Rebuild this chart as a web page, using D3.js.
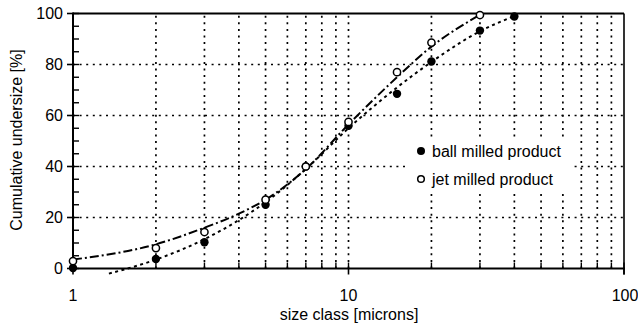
<!DOCTYPE html>
<html>
<head>
<meta charset="utf-8">
<script src="https://cdn.jsdelivr.net/npm/d3@7"></script>
<style>
  html, body { margin: 0; padding: 0; background: #fff; }
  svg { display: block; }
  text { font-family: "Liberation Sans", Arial, Helvetica, sans-serif; fill: #000; }
</style>
</head>
<body>
<svg id="chart" width="638" height="325"></svg>
<script>
// ---- data ----
const sizeClasses = [1, 2, 3, 5, 7, 10, 15, 20, 30, 40];
const ballMilled  = [0.2, 3.7, 10.3, 25, 40, 56, 68.5, 81.2, 93.3, 98.8];
const jetSizes    = [1, 2, 3, 5, 7, 10, 15, 20, 30];
const jetMilled   = [2.9, 8, 14.3, 27, 40, 57.5, 77, 88.6, 99.4];

// fitted curves
const ballFitX = [1.35, 2, 3, 4, 5, 7, 10, 15, 20, 30, 40];
const ballFitY = [-2, 3.5, 11.5, 19, 26, 39, 55, 71, 81, 93, 99];
const jetFitX  = [1, 2, 3, 4, 5, 7, 10, 15, 20, 30];
const jetFitY  = [3.5, 9.5, 16, 21.5, 27, 39, 56.5, 75, 87, 99.5];

const xTickLabels = [1, 10, 100];
const yTickLabels = [0, 20, 40, 60, 80, 100];
const seriesNames = ["ball milled product", "jet milled product"];

// ---- layout ----
const svg = d3.select("#chart");
const x = d3.scaleLog().domain([1, 100]).range([73, 624]);
const y = d3.scaleLinear().domain([0, 100]).range([268.5, 13.5]);
const [x0, x1] = x.range();
const [y0, y1] = y.range();

// minor positions
const xMinor = [];
for (const dec of [1, 10]) for (let k = 1; k <= 9; k++) xMinor.push(dec * k);
xMinor.push(100);
const yMinor = d3.range(0, 101, 5);

// ---- grid ----
const grid = svg.append("g").attr("stroke", "#000").attr("stroke-width", 1.7)
  .attr("stroke-dasharray", "2,4.6").attr("fill", "none");
grid.selectAll("line.v").data(xMinor.filter(v => v > 1 && v < 100)).join("line")
  .attr("x1", d => x(d)).attr("x2", d => x(d)).attr("y1", y0).attr("y2", y1);
grid.selectAll("line.h").data([20, 40, 60, 80]).join("line")
  .attr("x1", x0).attr("x2", x1).attr("y1", d => y(d)).attr("y2", d => y(d));

// ---- frame ----
const frame = svg.append("g").attr("stroke", "#000").attr("fill", "none");
frame.append("line").attr("x1", x0).attr("x2", x1).attr("y1", y1).attr("y2", y1).attr("stroke-width", 2.2);
frame.append("line").attr("x1", x1).attr("x2", x1).attr("y1", y1).attr("y2", y0 + 6).attr("stroke-width", 1.6);
frame.append("line").attr("x1", x0).attr("x2", x1 + 1).attr("y1", y0).attr("y2", y0).attr("stroke-width", 2);
frame.append("line").attr("x1", x0).attr("x2", x0).attr("y1", y0 + 1).attr("y2", y1 - 1).attr("stroke-width", 2);

// y ticks: minor inward, major outward
frame.selectAll("line.ym").data(yMinor).join("line")
  .attr("x1", x0).attr("x2", x0 + 6).attr("y1", d => y(d)).attr("y2", d => y(d)).attr("stroke-width", 1.4);
frame.selectAll("line.yM").data(yTickLabels).join("line")
  .attr("x1", x0 - 6).attr("x2", x0).attr("y1", d => y(d)).attr("y2", d => y(d)).attr("stroke-width", 1.6);
// x ticks: minor inward, major outward
frame.selectAll("line.xm").data(xMinor).join("line")
  .attr("x1", d => x(d)).attr("x2", d => x(d)).attr("y1", y0).attr("y2", y0 - 6).attr("stroke-width", 1.4);
frame.selectAll("line.xM").data(xTickLabels).join("line")
  .attr("x1", d => x(d)).attr("x2", d => x(d)).attr("y1", y0).attr("y2", y0 + 6).attr("stroke-width", 1.6);

// ---- tick labels ----
svg.append("g").selectAll("text").data(yTickLabels).join("text")
  .attr("x", 63).attr("y", d => y(d)).attr("dy", "0.36em")
  .attr("text-anchor", "end").attr("font-size", 16).text(d => d);
svg.append("g").selectAll("text").data(xTickLabels).join("text")
  .attr("x", d => x(d) + (d === 100 ? 1 : 0)).attr("y", 301)
  .attr("text-anchor", "middle").attr("font-size", 16).text(d => d);

// axis titles
svg.append("text").attr("x", 349).attr("y", 320).attr("text-anchor", "middle")
  .attr("font-size", 16).text("size class [microns]");
svg.append("text").attr("transform", "translate(22,140) rotate(-90)")
  .attr("text-anchor", "middle").attr("font-size", 16).text("Cumulative undersize [%]");

// ---- curves ----
const line = d3.line().x(d => x(d[0])).y(d => y(d[1])).curve(d3.curveMonotoneX);
svg.append("path").datum(d3.zip(ballFitX, ballFitY)).attr("d", line)
  .attr("fill", "none").attr("stroke", "#000").attr("stroke-width", 2)
  .attr("stroke-dasharray", "3,3.5");
svg.append("path").datum(d3.zip(jetFitX, jetFitY)).attr("d", line)
  .attr("fill", "none").attr("stroke", "#000").attr("stroke-width", 2)
  .attr("stroke-dasharray", "9,3,2,3");

// ---- markers ----
svg.append("g").selectAll("circle").data(d3.zip(sizeClasses, ballMilled)).join("circle")
  .attr("cx", d => x(d[0])).attr("cy", d => y(d[1])).attr("r", 4.2).attr("fill", "#000");
svg.append("g").selectAll("circle").data(d3.zip(jetSizes, jetMilled)).join("circle")
  .attr("cx", d => x(d[0])).attr("cy", d => y(d[1])).attr("r", 3.6)
  .attr("fill", "#fff").attr("stroke", "#000").attr("stroke-width", 1.5);

// ---- legend ----
const lg = svg.append("g");
lg.append("rect").attr("x", 408).attr("y", 137).attr("width", 166).attr("height", 56).attr("fill", "#fff");
seriesNames.forEach((name, i) => {
  const cy = 151 + i * 28;
  if (i === 0) lg.append("circle").attr("cx", 421).attr("cy", cy).attr("r", 4).attr("fill", "#000");
  else lg.append("circle").attr("cx", 421).attr("cy", cy).attr("r", 3.3).attr("fill", "#fff")
        .attr("stroke", "#000").attr("stroke-width", 1.5);
  lg.append("text").attr("x", 432).attr("y", cy + 6).attr("font-size", 16).text(name);
});
</script>
</body>
</html>
